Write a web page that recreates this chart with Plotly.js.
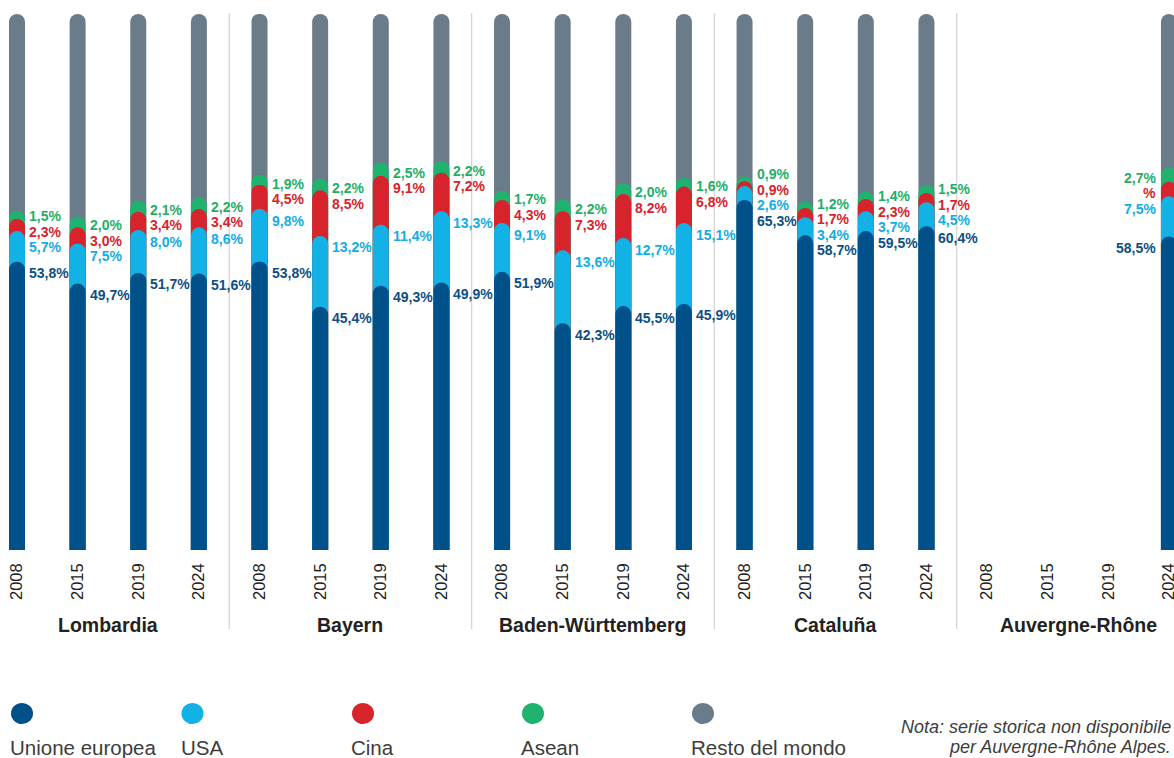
<!DOCTYPE html>
<html>
<head>
<meta charset="utf-8">
<script src="https://cdn.plot.ly/plotly-3.0.1.min.js"></script>
<style>
  html, body { margin: 0; padding: 0; background: #ffffff; }
  #chart { width: 1174px; height: 758px; }
</style>
</head>
<body>
<div id="chart"></div>
<script>
// ---------------- DATA ----------------
const regions = ["Lombardia", "Bayern", "Baden-Württemberg", "Cataluña", "Auvergne-Rhône"];
const years = ["2008", "2015", "2019", "2024"];

// one value per region-year, in order: Lombardia 2008..2024, Bayern ..., Auvergne-Rhône
const ueValues    = [53.8, 49.7, 51.7, 51.6,  53.8, 45.4, 49.3, 49.9,  51.9, 42.3, 45.5, 45.9,  65.3, 58.7, 59.5, 60.4,  null, null, null, 58.5];
const usaValues   = [ 5.7,  7.5,  8.0,  8.6,   9.8, 13.2, 11.4, 13.3,   9.1, 13.6, 12.7, 15.1,   2.6,  3.4,  3.7,  4.5,  null, null, null,  7.5];
const cinaValues  = [ 2.3,  3.0,  3.4,  3.4,   4.5,  8.5,  9.1,  7.2,   4.3,  7.3,  8.2,  6.8,   0.9,  1.7,  2.3,  1.7,  null, null, null,  2.7];
const aseanValues = [ 1.5,  2.0,  2.1,  2.2,   1.9,  2.2,  2.5,  2.2,   1.7,  2.2,  2.0,  1.6,   0.9,  1.2,  1.4,  1.5,  null, null, null,  2.7];
const restoValues = [36.7, 37.8, 34.8, 34.2,  30.0, 30.7, 27.7, 27.4,  33.0, 34.6, 31.6, 30.6,  30.3, 35.0, 33.1, 31.9,  null, null, null, 28.6];

// label texts as printed (the Cina value for Auvergne-Rhône 2024 is printed without a number)
const cinaLabelOverride = {19: "%"};

const seriesNames  = ["Unione europea", "USA", "Cina", "Asean", "Resto del mondo"];
const seriesColors = ["#00508a", "#12b1e6", "#d7232b", "#20b36f", "#6a7c89"];
const labelColors  = ["#0d4f85", "#12ade3", "#d7232b", "#1fae68", "#6a7c89"];
const noteLines = ["Nota: serie storica non disponibile", "per Auvergne-Rhône Alpes."];

// ---------------- LAYOUT CONSTANTS ----------------
const W = 1174, H = 758;
const plotH = 550;            // plot area from top of page to baseline
const yMax = 102.61;          // so that 100% sits ~14px from the top
const k = plotH / yMax;       // px per percentage point
const xRange = [-0.2804, 19.083];
const FONT = "Liberation Sans, Arial, sans-serif";

const nCat = regions.length * years.length;
const xs = Array.from({length: nCat}, (_, i) => i);
const tickText = xs.map(i => years[i % years.length]);

// cumulative stacks (drawn as overlaid rounded bars, each on its own overlaying x axis)
const series = [ueValues, usaValues, cinaValues, aseanValues, restoValues];
const cum = series.map(() => []);
for (let i = 0; i < nCat; i++) {
  let run = 0;
  for (let s = 0; s < series.length; s++) {
    const v = series[s][i];
    if (v === null) { cum[s].push(null); continue; }
    run += v;
    cum[s].push(+run.toFixed(2));
  }
}

const traces = [];
const axisIds = ["x", "x2", "x3", "x4", "x5"];
// back to front: Resto, Asean, Cina, USA, UE
for (let s = series.length - 1, a = 0; s >= 0; s--, a++) {
  traces.push({
    type: "bar",
    name: seriesNames[s],
    x: xs,
    y: cum[s],
    xaxis: axisIds[a], yaxis: "y",
    width: 0.264,
    marker: { color: seriesColors[s], cornerradius: "50%", line: { width: 0 } },
    hoverinfo: "skip",
    showlegend: false
  });
}

// ---------------- VALUE LABELS ----------------
function fmt(v) { return v.toFixed(1).replace(".", ",") + "%"; }
const annotations = [];
const gapPx = 15.5, offPx = 11.5;
for (let i = 0; i < nCat; i++) {
  if (ueValues[i] === null) continue;
  const order = [3, 2, 1, 0];   // top to bottom: Asean, Cina, USA, UE
  const desired = order.map(s => (yMax - cum[s][i]) * k + offPx);
  let clusters = desired.map(d => ({n: 1, sum: d, start: d}));
  let merged = true;
  while (merged) {
    merged = false;
    for (let c = 0; c < clusters.length - 1; c++) {
      const a = clusters[c], b = clusters[c + 1];
      if (a.start + a.n * gapPx > b.start) {
        const n = a.n + b.n, sum = a.sum + b.sum;
        const start = (sum - gapPx * n * (n - 1) / 2) / n;
        clusters.splice(c, 2, {n, sum, start});
        merged = true;
        break;
      }
    }
  }
  const pos = [];
  clusters.forEach(c => { for (let j = 0; j < c.n; j++) pos.push(c.start + j * gapPx); });
  const leftSide = (i === nCat - 1);
  order.forEach((s, j) => {
    let txt = fmt(series[s][i]);
    if (s === 2 && cinaLabelOverride[i] !== undefined) txt = cinaLabelOverride[i];
    annotations.push({
      x: i, xref: "x",
      y: yMax - pos[j] / k, yref: "y",
      text: "<b>" + txt + "</b>",
      showarrow: false,
      xanchor: leftSide ? "right" : "left",
      yanchor: "middle",
      xshift: leftSide ? -11 : 10,
      font: { family: FONT, size: 14, color: labelColors[s] }
    });
  });
}

// region labels
regions.forEach((r, g) => {
  annotations.push({
    x: g * years.length + (years.length - 1) / 2, xref: "x",
    y: 0, yref: "paper", yshift: -75,
    text: "<b>" + r + "</b>", showarrow: false,
    xanchor: "center", yanchor: "middle",
    font: { family: FONT, size: 19.5, color: "#222222" }
  });
});

const pX = px => px / W;
const pY = py => (plotH - py) / plotH;

const shapes = [];
for (let g = 1; g < regions.length; g++) {
  shapes.push({
    type: "line", xref: "x", yref: "paper",
    x0: g * years.length - 0.5, x1: g * years.length - 0.5,
    y0: pY(629), y1: pY(13),
    line: { color: "#c9c9c9", width: 1 }
  });
}

// custom legend: dot above, name below
const legendX = [22, 192.5, 363, 533, 703];
seriesNames.forEach((n, s) => {
  shapes.push({
    type: "circle", xref: "paper", yref: "paper",
    x0: pX(legendX[s] - 11), x1: pX(legendX[s] + 11),
    y0: pY(724), y1: pY(703),
    fillcolor: seriesColors[s], line: { width: 0 }
  });
  annotations.push({
    x: pX(legendX[s] - 14), xref: "paper",
    y: pY(747), yref: "paper",
    text: n, showarrow: false, xanchor: "left", yanchor: "middle",
    font: { family: FONT, size: 20.5, color: "#3d3d3d" }
  });
});

const noteY = [727, 747];
noteLines.forEach((t, j) => {
  annotations.push({
    x: pX(1173), xref: "paper", y: pY(noteY[j]), yref: "paper",
    text: "<i>" + t + "</i>", showarrow: false, xanchor: "right", yanchor: "middle",
    font: { family: FONT, size: 18, color: "#3d3d3d" }
  });
});

const hiddenX = { range: xRange, visible: false, overlaying: "x", fixedrange: true, showgrid: false, zeroline: false };

const layout = {
  width: W, height: H,
  margin: { l: 0, r: 0, t: 0, b: H - plotH, pad: 0 },
  paper_bgcolor: "#ffffff", plot_bgcolor: "#ffffff",
  barmode: "overlay",
  showlegend: false,
  xaxis: {
    range: xRange, tickmode: "array", tickvals: xs, ticktext: tickText,
    tickangle: -90, ticks: "", showgrid: false, zeroline: false, showline: false,
    ticklabelstandoff: 9, ticklabeloverflow: "allow",
    tickfont: { family: FONT, size: 16.5, color: "#1e1e1e" },
    automargin: false, fixedrange: true
  },
  xaxis2: hiddenX, xaxis3: hiddenX, xaxis4: hiddenX, xaxis5: hiddenX,
  yaxis: {
    range: [0, yMax], visible: false, showgrid: false, zeroline: false, fixedrange: true
  },
  shapes: shapes,
  annotations: annotations
};

Plotly.newPlot("chart", traces, layout, { displayModeBar: false, staticPlot: true });
</script>
</body>
</html>
